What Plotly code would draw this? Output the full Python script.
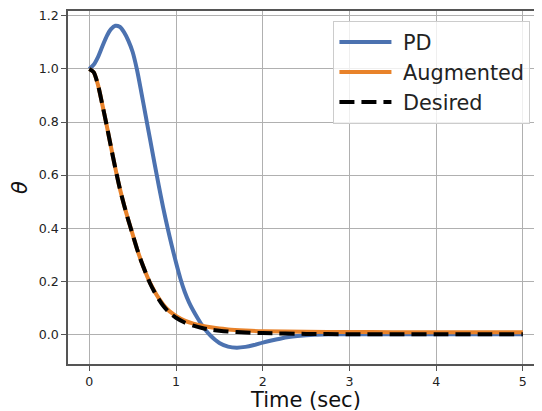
import plotly.graph_objects as go

# Time samples (sec)
t_pd = [0.0, 0.05, 0.1, 0.15, 0.2, 0.25, 0.3, 0.35, 0.4, 0.45, 0.5, 0.55, 0.6, 0.65,
        0.7, 0.75, 0.8, 0.85, 0.9, 0.95, 1.0, 1.05, 1.1, 1.15, 1.2, 1.25, 1.3, 1.35,
        1.4, 1.45, 1.5, 1.6, 1.7, 1.8, 1.9, 2.0, 2.1, 2.2, 2.3, 2.4, 2.6, 2.8, 3.0,
        3.5, 4.0, 4.5, 5.0]
pd_vals = [1.0, 1.016, 1.045, 1.085, 1.123, 1.150, 1.163, 1.159, 1.139, 1.107, 1.064,
           0.997, 0.912, 0.824, 0.736, 0.648, 0.562, 0.480, 0.405, 0.335, 0.270,
           0.210, 0.160, 0.120, 0.088, 0.060, 0.034, 0.012, -0.006, -0.021, -0.033,
           -0.047, -0.051, -0.048, -0.041, -0.032, -0.024, -0.017, -0.011, -0.007,
           -0.002, 0.0, 0.0, 0.0, 0.0, 0.0, 0.0]

t_ref = [0.0, 0.05, 0.1, 0.15, 0.2, 0.25, 0.3, 0.35, 0.4, 0.45, 0.5, 0.55, 0.6, 0.65,
         0.7, 0.75, 0.8, 0.85, 0.9, 0.95, 1.0, 1.1, 1.2, 1.3, 1.4, 1.5, 1.6, 1.8,
         2.0, 2.5, 3.0, 3.5, 4.0, 4.5, 5.0]
aug_vals = [1.0, 0.988, 0.940, 0.866, 0.788, 0.706, 0.626, 0.552, 0.488, 0.430, 0.376,
            0.322, 0.274, 0.232, 0.194, 0.163, 0.136, 0.113, 0.094, 0.080, 0.069,
            0.051, 0.040, 0.032, 0.026, 0.021, 0.018, 0.014, 0.011, 0.009, 0.008,
            0.0075, 0.0075, 0.0075, 0.0075]
des_vals = [1.0, 0.988, 0.940, 0.866, 0.788, 0.706, 0.626, 0.552, 0.488, 0.430, 0.376,
            0.322, 0.274, 0.232, 0.192, 0.160, 0.132, 0.108, 0.089, 0.074, 0.062,
            0.044, 0.032, 0.023, 0.017, 0.013, 0.010, 0.006, 0.004, 0.001, 0.0,
            0.0, 0.0, 0.0, 0.0]

series_names = ["PD", "Augmented", "Desired"]
x_ticks = [0, 1, 2, 3, 4, 5]
y_ticks = [0.0, 0.2, 0.4, 0.6, 0.8, 1.0, 1.2]
x_title = "Time (sec)"
y_title = "<i>θ</i>"

FONT = "DejaVu Sans"
AX = "#555555"

fig = go.Figure()
fig.add_trace(go.Scatter(x=t_pd, y=pd_vals, mode="lines", name="\u00a0" + series_names[0],
                         line=dict(color="#4C72B0", width=4, shape="spline", smoothing=0.7)))
fig.add_trace(go.Scatter(x=t_ref, y=aug_vals, mode="lines", name="\u00a0" + series_names[1],
                         line=dict(color="#E8822A", width=4, shape="spline", smoothing=0.7)))
fig.add_trace(go.Scatter(x=t_ref, y=des_vals, mode="lines", name="\u00a0" + series_names[2],
                         line=dict(color="#000000", width=4, dash="15px,7px",
                                   shape="spline", smoothing=0.7)))

fig.update_layout(
    width=542, height=411,
    margin=dict(l=60, r=8, t=1, b=55),
    paper_bgcolor="white", plot_bgcolor="white",
    font=dict(family=FONT, color="#222222", size=12.6),
    showlegend=True,
    legend=dict(x=0.56, y=0.972, xanchor="left", yanchor="top",
                bgcolor="rgba(255,255,255,0.8)", bordercolor="#cccccc", borderwidth=1,
                font=dict(family=FONT, size=20.8, color="#222222"),
                tracegroupgap=0, itemwidth=52),
    annotations=[dict(text=x_title, xref="paper", yref="paper", x=0.5, y=0,
                      xanchor="center", yanchor="top", yshift=-22, showarrow=False,
                      font=dict(family=FONT, size=21, color="#111111"))],
)
fig.update_xaxes(
    range=[-0.2457, 5.221], tickvals=x_ticks, ticktext=[str(v) for v in x_ticks],
    showgrid=True, gridcolor="#b0b0b0", gridwidth=1, zeroline=False,
    showline=True, linecolor=AX, linewidth=1.5, mirror=True,
    ticks="outside", ticklen=5, tickwidth=1.2, tickcolor=AX,
    tickfont=dict(family=FONT, size=12.6, color="#222222"),
)
fig.update_yaxes(
    range=[-0.1125, 1.2186], tickvals=y_ticks, ticktext=[f"{v:.1f}" for v in y_ticks],
    showgrid=True, gridcolor="#b0b0b0", gridwidth=1, zeroline=False,
    showline=True, linecolor=AX, linewidth=1.5,
    ticks="outside", ticklen=5, tickwidth=1.2, tickcolor=AX,
    tickfont=dict(family=FONT, size=12.6, color="#222222"),
    title=dict(text=y_title, font=dict(family=FONT, size=21, color="#111111"), standoff=10),
)

fig.write_html("out.html")
